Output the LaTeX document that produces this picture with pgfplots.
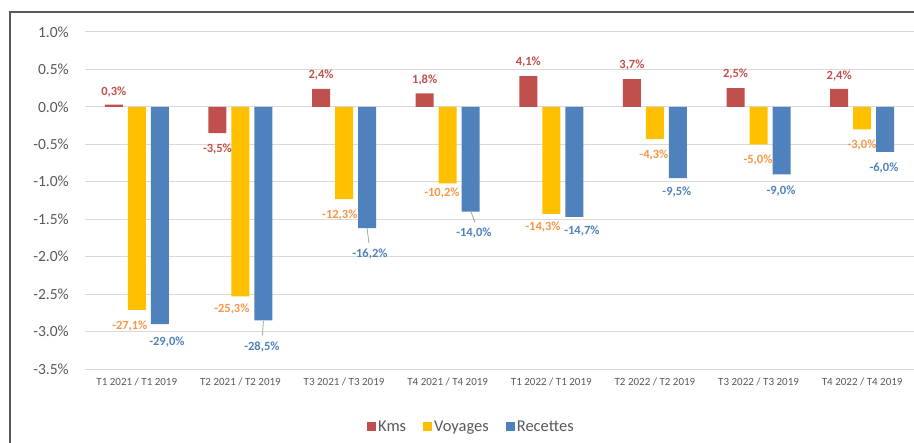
\documentclass[border=0pt]{standalone}
\usepackage{pgfplots}
\pgfplotsset{compat=1.18}
\usepackage{fontspec}
\setmainfont{Carlito}
\definecolor{kms}{HTML}{C0504D}
\definecolor{voy}{HTML}{FFC000}
\definecolor{rec}{HTML}{4F81BD}
\definecolor{voylab}{HTML}{F79646}
\definecolor{ticktext}{HTML}{595959}
\definecolor{gridc}{HTML}{D9D9D9}
\definecolor{framec}{HTML}{595959}
\definecolor{leader}{HTML}{A6A6A6}
\begin{document}
\begin{tikzpicture}
\path[use as bounding box] (0bp,0bp) rectangle (914bp,443bp);
\draw[framec, line width=1.2bp] (10bp,0bp) -- (10bp,431bp) -- (920bp,431bp);
\begin{axis}[
  at={(85bp,74bp)}, anchor=south west,
  scale only axis, width=829bp, height=337bp,
  ybar, bar width=0.174,
  xmin=-0.5, xmax=7.5, ymin=-3.5, ymax=1.0,
  xtick={0,1,2,3,4,5,6,7},
  xticklabels={T1 2021 / T1 2019, T2 2021 / T2 2019, T3 2021 / T3 2019, T4 2021 / T4 2019, T1 2022 / T1 2019, T2 2022 / T2 2019, T3 2022 / T3 2019, T4 2022 / T4 2019},
  ytick={-3.5,-3,-2.5,-2,-1.5,-1,-0.5,0,0.5,1},
  yticklabel={\pgfmathprintnumber[fixed,fixed zerofill,precision=1]{\tick}\%},
  /pgf/number format/assume math mode=true,
  ymajorgrids, grid style={gridc, line width=1bp},
  axis line style={draw=none},
  major tick length=0pt,
  yticklabel style={font=\fontsize{15.5bp}{18bp}\selectfont, text=ticktext, anchor=east, inner sep=0pt, xshift=-16bp},
  xticklabel style={font=\fontsize{11bp}{13bp}\selectfont, text=ticktext, anchor=north, inner sep=0pt, yshift=-9bp},
  clip=false,
  legend columns=-1,
  legend style={at={(0.4662,-0.172)}, anchor=center, draw=none, fill=none,
    font=\fontsize{16.5bp}{19bp}\selectfont, text=ticktext,
    /tikz/every even column/.append style={column sep=15bp}},
  legend image code/.code={\fill[#1,/tikz/.cd,draw=none] (0bp,-4.5bp) rectangle (9bp,4.5bp);},
]
\addplot[fill=kms, draw=none, bar shift=-0.222] coordinates {(0,0.03) (1,-0.35) (2,0.24) (3,0.18) (4,0.41) (5,0.37) (6,0.25) (7,0.24)};
\addplot[fill=voy, draw=none, bar shift=0] coordinates {(0,-2.71) (1,-2.53) (2,-1.23) (3,-1.02) (4,-1.43) (5,-0.43) (6,-0.50) (7,-0.30)};
\addplot[fill=rec, draw=none, bar shift=0.222] coordinates {(0,-2.90) (1,-2.85) (2,-1.62) (3,-1.40) (4,-1.47) (5,-0.95) (6,-0.90) (7,-0.60)};
\legend{Kms, Voyages, Recettes}

% leader lines
\draw[leader, line width=0.8bp] (axis cs:1.222,-2.86) -- (axis cs:1.212,-3.05);
\draw[leader, line width=0.8bp] (axis cs:2.222,-1.62) -- (axis cs:2.240,-1.82);
\draw[leader, line width=0.8bp] (axis cs:3.224,-1.40) -- (axis cs:3.263,-1.54);

% Kms labels
\begin{scope}[every node/.style={font=\bfseries\fontsize{12.5bp}{14bp}\selectfont, text=kms, inner sep=0pt}]
\node at (axis cs:-0.222,0.20) {0,3\%};
\node at (axis cs:0.778,-0.56) {-3,5\%};
\node at (axis cs:1.778,0.43) {2,4\%};
\node at (axis cs:2.778,0.36) {1,8\%};
\node at (axis cs:3.778,0.60) {4,1\%};
\node at (axis cs:4.778,0.56) {3,7\%};
\node at (axis cs:5.778,0.44) {2,5\%};
\node at (axis cs:6.778,0.41) {2,4\%};
\end{scope}
% Voyages labels
\begin{scope}[every node/.style={font=\bfseries\fontsize{12.5bp}{14bp}\selectfont, text=voylab, inner sep=0pt}]
\node at (axis cs:-0.068,-2.93) {-27,1\%};
\node at (axis cs:0.917,-2.70) {-25,3\%};
\node at (axis cs:1.959,-1.44) {-12,3\%};
\node at (axis cs:2.944,-1.15) {-10,2\%};
\node at (axis cs:3.919,-1.60) {-14,3\%};
\node at (axis cs:4.990,-0.64) {-4,3\%};
\node at (axis cs:5.994,-0.71) {-5,0\%};
\node at (axis cs:6.998,-0.51) {-3,0\%};
\end{scope}
% Recettes labels
\begin{scope}[every node/.style={font=\bfseries\fontsize{12.5bp}{14bp}\selectfont, text=rec, inner sep=0pt}]
\node at (axis cs:0.290,-3.14) {-29,0\%};
\node at (axis cs:1.207,-3.21) {-28,5\%};
\node at (axis cs:2.249,-1.97) {-16,2\%};
\node at (axis cs:3.253,-1.68) {-14,0\%};
\node at (axis cs:4.295,-1.66) {-14,7\%};
\node at (axis cs:5.212,-1.14) {-9,5\%};
\node at (axis cs:6.216,-1.12) {-9,0\%};
\node at (axis cs:7.210,-0.82) {-6,0\%};
\end{scope}
\end{axis}
\end{tikzpicture}
\end{document}
